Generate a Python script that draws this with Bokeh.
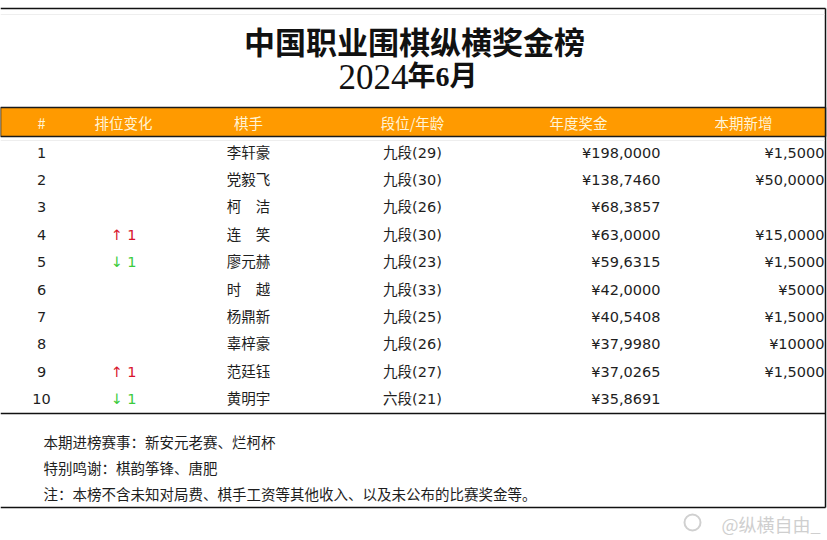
from bokeh.plotting import figure
from bokeh.models import Range1d, ColumnDataSource
from bokeh.core.properties import value
from bokeh.embed import file_html
from bokeh.resources import INLINE

# ---------------- data ----------------
title = "中国职业围棋纵横奖金榜"
year_text = "2024"
month_text = "年6月"
headers = ["#", "排位变化", "棋手", "段位/年龄", "年度奖金", "本期新增"]
ranks = ["1", "2", "3", "4", "5", "6", "7", "8", "9", "10"]
rank_change = [0, 0, 0, 1, -1, 0, 0, 0, 1, -1]
players = ["李轩豪", "党毅飞", "柯　洁", "连　笑", "廖元赫", "时　越", "杨鼎新", "辜梓豪", "范廷钰", "黄明宇"]
dan_age = ["九段(29)", "九段(30)", "九段(26)", "九段(30)", "九段(23)", "九段(33)",
           "九段(25)", "九段(26)", "九段(27)", "六段(21)"]
annual_prize = ["¥198,0000", "¥138,7460", "¥68,3857", "¥63,0000", "¥59,6315",
                "¥42,0000", "¥40,5408", "¥37,9980", "¥37,0265", "¥35,8691"]
new_prize = ["¥1,5000", "¥50,0000", "", "¥15,0000", "¥1,5000",
             "¥5000", "¥1,5000", "¥10000", "¥1,5000", ""]
notes = ["本期进榜赛事：新安元老赛、烂柯杯",
         "特别鸣谢：棋韵筝锋、唐肥",
         "注：本榜不含未知对局费、棋手工资等其他收入、以及未公布的比赛奖金等。"]
watermark = "@纵横自由_"

# ---------------- layout ----------------
W, H = 827, 540
p = figure(width=W, height=H, x_range=Range1d(0, W), y_range=Range1d(H, 0),
           x_axis_type=None, y_axis_type=None, output_backend="svg",
           toolbar_location=None, min_border=0)
p.grid.visible = False
p.outline_line_color = None
p.background_fill_color = "white"
p.border_fill_color = "white"

CJK = "Noto Sans CJK SC"
BODY = "DejaVu Sans, Noto Sans CJK SC"

RIGHT = 825
TOP = 8
HEAD_TOP, HEAD_BOT = 107, 136
ROW0, ROWH = 152, 27.4
TABLE_BOT = 413
BOTTOM = 507

# frame lines
p.segment(x0=[0, RIGHT, 0, 0], y0=[TOP, TOP, TABLE_BOT, BOTTOM],
          x1=[RIGHT, RIGHT, RIGHT, RIGHT], y1=[TOP, BOTTOM, TABLE_BOT, BOTTOM],
          line_color="#111111", line_width=1.5)
p.segment(x0=[0, 0], y0=[TOP + 6, HEAD_BOT + 4], x1=[RIGHT - 1, RIGHT - 1], y1=[TOP + 6, HEAD_BOT + 4],
          line_color="#eeeeee", line_width=1)

# header band
p.quad(left=[0], right=[RIGHT], top=[HEAD_TOP], bottom=[HEAD_BOT],
       fill_color="#FF9A00", line_color="#1a1a1a", line_width=1.5)

# title
p.text(x=[414], y=[40], text=[title], text_font=value(CJK), text_font_style="bold",
       text_font_size="31px", text_align="center", text_baseline="middle", text_color="#111111")
p.text(x=[408], y=[76], text=[year_text], text_font=value("Liberation Serif"),
       text_font_size="35px", text_align="right", text_baseline="middle", text_color="#111111")
p.text(x=[407], y=[76], text=[month_text], text_font=value("Liberation Serif, Noto Sans CJK SC"),
       text_font_style="bold", text_font_size="28px", text_align="left", text_baseline="middle",
       text_color="#111111")

# header texts
head_x = [41, 123, 248, 412, 578, 743]
p.text(x=head_x, y=[122] * len(headers), text=headers, text_font=value(CJK),
       text_font_size="14.5px", text_align="center", text_baseline="middle", text_color="#FFF4D6")

# rows
row_y = [ROW0 + i * ROWH for i in range(len(ranks))]
change_text = [("↑ %d" % c) if c > 0 else (("↓ %d" % -c) if c < 0 else "") for c in rank_change]
change_color = ["#D8132B" if c > 0 else ("#3CCB3C" if c < 0 else "#ffffff") for c in rank_change]
src = ColumnDataSource(dict(y=row_y, rank=ranks, chg=change_text, chg_color=change_color,
                            player=players, dan=dan_age, annual=annual_prize, new=new_prize))

common = dict(y="y", source=src, text_font=value(BODY), text_font_size="14.5px",
              text_baseline="middle", text_color="#1e1e1e")
p.text(x=41, text="rank", text_align="center", **common)
p.text(x=248, text="player", text_align="center", **common)
p.text(x=412, text="dan", text_align="center", **common)
p.text(x=660, text="annual", text_align="right", **common)
p.text(x=824, text="new", text_align="right", **common)
p.text(x=123, y="y", source=src, text="chg", text_color="chg_color", text_font=value(BODY),
       text_font_size="14.5px", text_align="center", text_baseline="middle")

# notes
p.text(x=[43] * len(notes), y=[441, 467, 493], text=notes, text_font=value(CJK),
       text_font_size="14.5px", text_align="left", text_baseline="middle", text_color="#1e1e1e")

# watermark
p.circle(x=[692], y=[522], radius=8, fill_color=None, line_color="#d0d0d0", line_width=2)
p.text(x=[820], y=[523], text=[watermark], text_font=value(CJK), text_font_size="18px",
       text_align="right", text_baseline="middle", text_color="#cfcfcf")

open("out.html", "w").write(file_html(p, INLINE))
